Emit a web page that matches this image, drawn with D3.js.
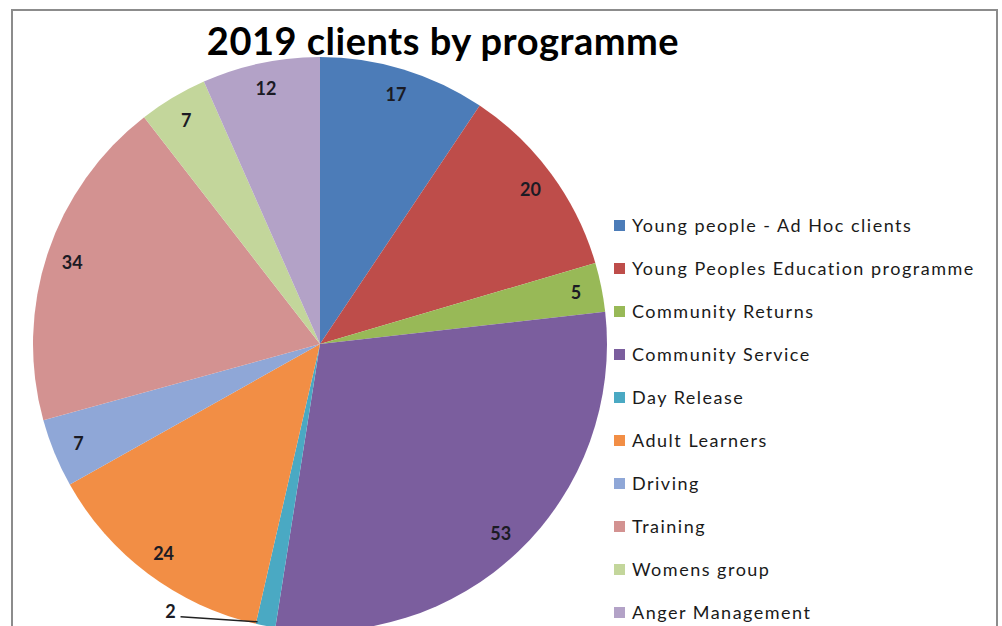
<!DOCTYPE html>
<html>
<head>
<meta charset="utf-8">
<script src="https://cdn.jsdelivr.net/npm/d3@7"></script>
<style>
  html, body { margin: 0; padding: 0; background: #fff; }
  svg { display: block; }
</style>
</head>
<body>
<svg id="chart" width="1002" height="626"></svg>
<script>
// Programmes and their 2019 client counts
const categories = [
  "Young people - Ad Hoc clients",
  "Young Peoples Education programme",
  "Community Returns",
  "Community Service",
  "Day Release",
  "Adult Learners",
  "Driving",
  "Training",
  "Womens group",
  "Anger Management"
];
const clients = [17, 20, 5, 53, 2, 24, 7, 34, 7, 12];
const colors = [
  "#4C7CB8", "#BE4D4A", "#98B957", "#7B5E9E", "#4AA9C3",
  "#F28E45", "#8FA7D7", "#D39291", "#C3D69B", "#B3A2C7"
];

const svg = d3.select("#chart");
const cx = 320, cy = 344, R = 287;
const font = "Lato, 'Open Sans', sans-serif";

// Chart frame
svg.append("rect")
  .attr("x", 12).attr("y", 10)
  .attr("width", 985).attr("height", 640)
  .attr("fill", "#fff")
  .attr("stroke", "#8c8c8c")
  .attr("stroke-width", 2);

const data = categories.map((c, i) => ({ name: c, value: clients[i], color: colors[i] }));

const pie = d3.pie().sort(null).value(d => d.value);
const arcs = pie(data);
const arc = d3.arc().innerRadius(0).outerRadius(R);
const labelArc = d3.arc().innerRadius(R * 0.91).outerRadius(R * 0.91);

const g = svg.append("g").attr("transform", `translate(${cx},${cy})`);

g.selectAll("path.slice")
  .data(arcs)
  .join("path")
  .attr("class", "slice")
  .attr("d", arc)
  .attr("fill", d => d.data.color);

// Value labels; the thinnest slice gets an outside label with a leader line
const outside = d => d.data.value <= 2;
const edgePoint = d => {
  const a = (d.startAngle + d.endAngle) / 2;
  return [Math.sin(a) * R, -Math.cos(a) * R];
};

g.selectAll("path.leader")
  .data(arcs.filter(outside))
  .join("path")
  .attr("class", "leader")
  .attr("d", d => {
    const [px, py] = edgePoint(d);
    return `M${px - 85},${py - 9} L${px - 8},${py - 4}`;
  })
  .attr("fill", "none")
  .attr("stroke", "#222")
  .attr("stroke-width", 1.5);

g.selectAll("text.val")
  .data(arcs)
  .join("text")
  .attr("class", "val")
  .attr("transform", d => {
    if (outside(d)) {
      const [px, py] = edgePoint(d);
      return `translate(${px - 95},${py - 15})`;
    }
    const [x, y] = labelArc.centroid(d);
    return `translate(${x},${y})`;
  })
  .attr("text-anchor", "middle")
  .attr("dominant-baseline", "central")
  .attr("font-family", font)
  .attr("font-weight", "bold")
  .attr("font-size", 18)
  .attr("fill", "#1b1b24")
  .text(d => d.data.value);

// Title
svg.append("text")
  .attr("x", 443).attr("y", 55)
  .attr("text-anchor", "middle")
  .attr("font-family", font)
  .attr("font-weight", "bold")
  .attr("font-size", 38)
  .attr("letter-spacing", 0.5)
  .attr("fill", "#000")
  .text("2019 clients by programme");

// Legend
const legendY = d3.scalePoint().domain(categories).range([225, 612]);
const legend = svg.append("g");
const items = legend.selectAll("g")
  .data(data)
  .join("g")
  .attr("transform", d => `translate(614,${legendY(d.name)})`);

items.append("rect")
  .attr("x", 0).attr("y", -5)
  .attr("width", 11).attr("height", 11)
  .attr("fill", d => d.color);

items.append("text")
  .attr("x", 18).attr("y", 0)
  .attr("dominant-baseline", "central")
  .attr("font-family", font)
  .attr("font-size", 18)
  .attr("letter-spacing", 1.5)
  .attr("fill", "#1a1a1a")
  .text(d => d.name);
</script>
</body>
</html>
